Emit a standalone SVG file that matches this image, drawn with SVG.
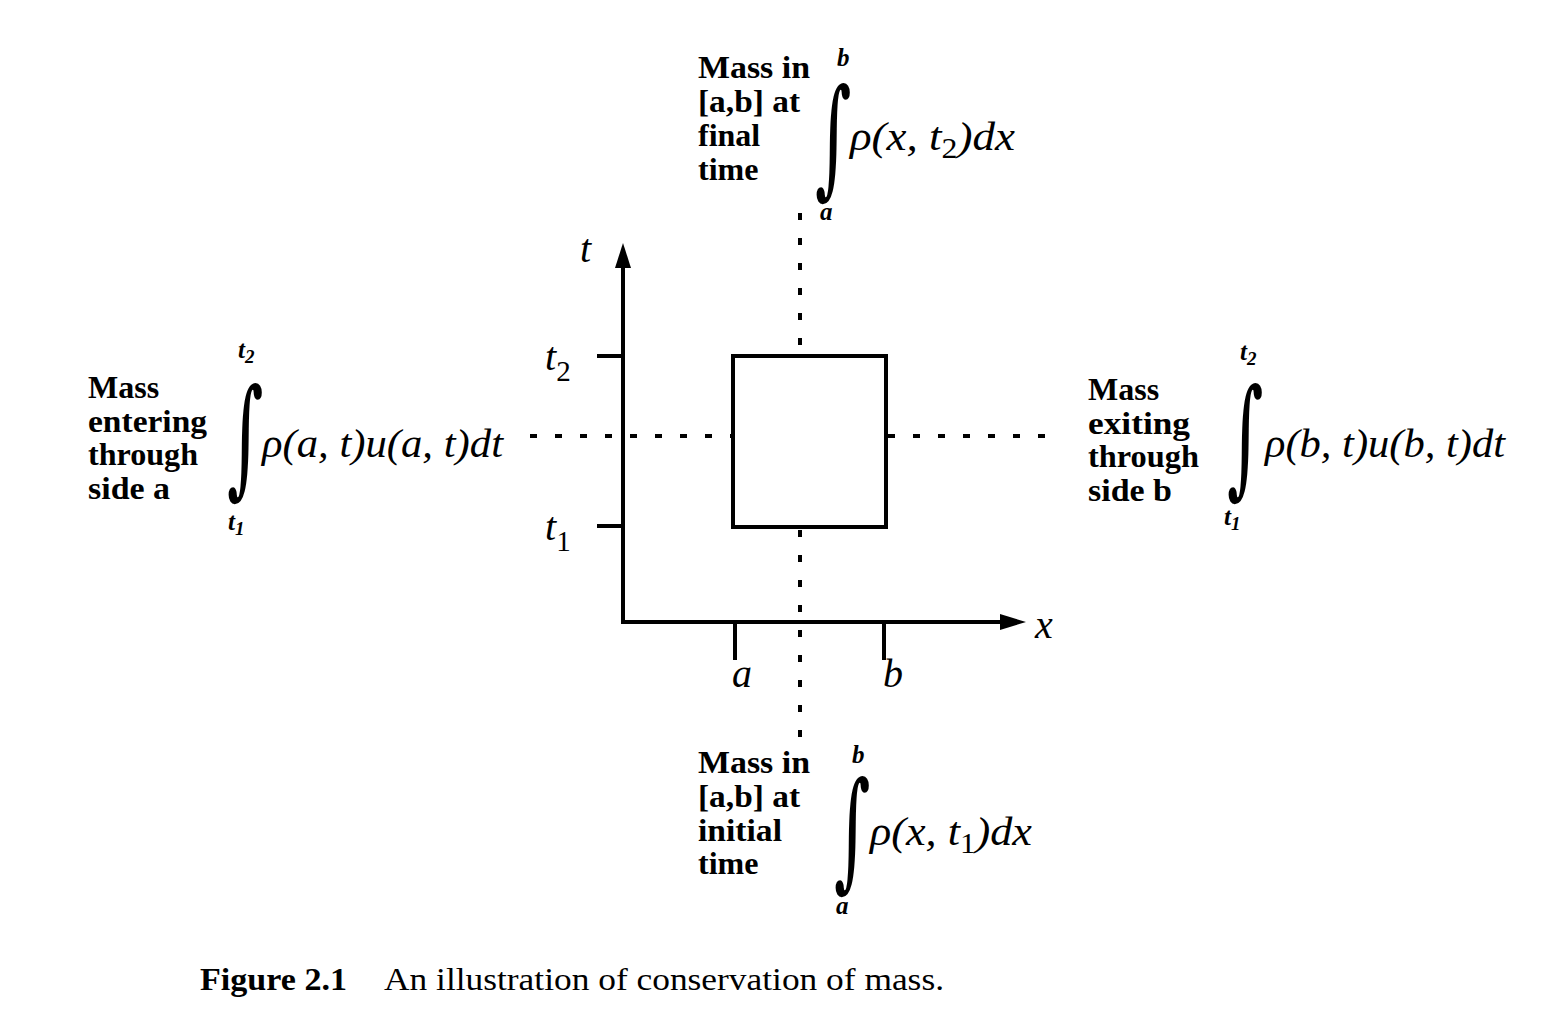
<svg xmlns="http://www.w3.org/2000/svg" width="1568" height="1021" viewBox="0 0 1568 1021">
<style>
.lbl{font-family:"Liberation Serif","Times New Roman",serif;font-weight:bold;font-size:32px;fill:#000}
.math{font-family:"Liberation Serif","Times New Roman",serif;font-style:italic;font-size:41px;fill:#000}
.sub{font-size:29px;font-style:normal}
.lim{font-family:"Liberation Serif","Times New Roman",serif;font-style:italic;font-weight:bold;font-size:25px;fill:#000}
.int{font-family:"DejaVu Serif",serif;font-size:70px;fill:#000}
.ax{font-family:"Liberation Serif","Times New Roman",serif;font-style:italic;font-size:40px;fill:#000}
.cap{font-family:"Liberation Serif","Times New Roman",serif;font-size:32px;fill:#000}
.solid{stroke:#000;stroke-width:4;fill:none}
.dot{stroke:#000;stroke-width:4;fill:none;stroke-dasharray:7 18}
</style>
<rect width="1568" height="1021" fill="#fff"/>
<g id="connectors">
  <line class="dot" x1="800" y1="213" x2="800" y2="356"/>
  <line class="dot" x1="800" y1="530" x2="800" y2="748"/>
  <line class="dot" x1="530" y1="436" x2="732" y2="436"/>
  <line class="dot" x1="888" y1="436" x2="1060" y2="436"/>
</g>
<g id="axes">
  <line class="solid" x1="623" y1="622" x2="623" y2="262"/>
  <polygon points="623,243 615,268 631,268" fill="#000"/>
  <line class="solid" x1="621" y1="622" x2="1005" y2="622"/>
  <polygon points="1026,622 1000,614 1000,630" fill="#000"/>
  <line class="solid" x1="597" y1="356" x2="623" y2="356"/>
  <line class="solid" x1="597" y1="526" x2="623" y2="526"/>
  <line class="solid" x1="735" y1="622" x2="735" y2="660"/>
  <line class="solid" x1="884" y1="622" x2="884" y2="660"/>
  <text class="ax" x="580" y="262">t</text>
  <text class="ax" x="545" y="370">t<tspan class="sub" dy="11">2</tspan></text>
  <text class="ax" x="545" y="540">t<tspan class="sub" dy="11">1</tspan></text>
  <text class="ax" x="1035" y="638">x</text>
  <text class="ax" x="732" y="687">a</text>
  <text class="ax" x="883" y="687">b</text>
</g>
<g id="box">
  <rect class="solid" x="733" y="356" width="153" height="171"/>
</g>
<g id="top">
  <text class="lbl" x="698" y="78" textLength="112" lengthAdjust="spacingAndGlyphs">Mass in</text>
  <text class="lbl" x="698" y="112" textLength="102" lengthAdjust="spacingAndGlyphs">[a,b] at</text>
  <text class="lbl" x="698" y="146">final</text>
  <text class="lbl" x="698" y="180">time</text>
  <text class="int" transform="translate(815,181) scale(1,1.85)">∫</text>
  <text class="lim" x="837" y="66">b</text>
  <text class="lim" x="820" y="220">a</text>
  <text class="math" x="850" y="150" textLength="165" lengthAdjust="spacingAndGlyphs">ρ(x, t<tspan class="sub" dy="8">2</tspan><tspan dy="-8">)dx</tspan></text>
</g>
<g id="left">
  <text class="lbl" x="88" y="398">Mass</text>
  <text class="lbl" x="88" y="432" textLength="119" lengthAdjust="spacingAndGlyphs">entering</text>
  <text class="lbl" x="88" y="465" textLength="110" lengthAdjust="spacingAndGlyphs">through</text>
  <text class="lbl" x="88" y="499" textLength="82" lengthAdjust="spacingAndGlyphs">side a</text>
  <text class="int" transform="translate(227,481) scale(1,1.85)">∫</text>
  <text class="lim" x="238" y="358">t<tspan font-size="19" dy="5">2</tspan></text>
  <text class="lim" x="228" y="530">t<tspan font-size="19" dy="5">1</tspan></text>
  <text class="math" x="262" y="457" textLength="241" lengthAdjust="spacingAndGlyphs">ρ(a, t)u(a, t)dt</text>
</g>
<g id="right">
  <text class="lbl" x="1088" y="400">Mass</text>
  <text class="lbl" x="1088" y="434" textLength="102" lengthAdjust="spacingAndGlyphs">exiting</text>
  <text class="lbl" x="1088" y="467" textLength="111" lengthAdjust="spacingAndGlyphs">through</text>
  <text class="lbl" x="1088" y="501" textLength="84" lengthAdjust="spacingAndGlyphs">side b</text>
  <text class="int" transform="translate(1227,481) scale(1,1.85)">∫</text>
  <text class="lim" x="1240" y="360">t<tspan font-size="19" dy="5">2</tspan></text>
  <text class="lim" x="1224" y="525">t<tspan font-size="19" dy="5">1</tspan></text>
  <text class="math" x="1265" y="457" textLength="240" lengthAdjust="spacingAndGlyphs">ρ(b, t)u(b, t)dt</text>
</g>
<g id="bottom">
  <text class="lbl" x="698" y="773" textLength="112" lengthAdjust="spacingAndGlyphs">Mass in</text>
  <text class="lbl" x="698" y="807" textLength="102" lengthAdjust="spacingAndGlyphs">[a,b] at</text>
  <text class="lbl" x="698" y="841" textLength="84" lengthAdjust="spacingAndGlyphs">initial</text>
  <text class="lbl" x="698" y="874">time</text>
  <text class="int" transform="translate(834,874) scale(1,1.85)">∫</text>
  <text class="lim" x="852" y="763">b</text>
  <text class="lim" x="836" y="914">a</text>
  <text class="math" x="870" y="845" textLength="162" lengthAdjust="spacingAndGlyphs">ρ(x, t<tspan class="sub" dy="8">1</tspan><tspan dy="-8">)dx</tspan></text>
</g>
<g id="caption">
  <text class="cap" x="200" y="990" font-weight="bold" textLength="147" lengthAdjust="spacingAndGlyphs">Figure 2.1</text>
  <text class="cap" x="384" y="990" textLength="560" lengthAdjust="spacingAndGlyphs">An illustration of conservation of mass.</text>
</g>
</svg>
